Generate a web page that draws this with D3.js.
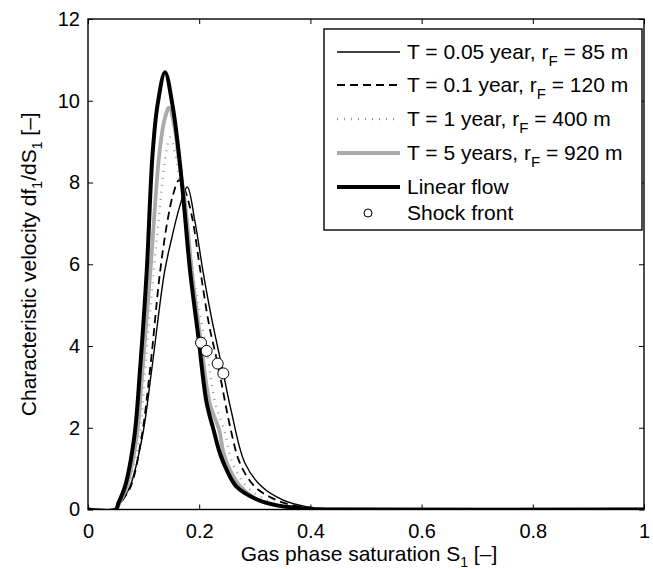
<!DOCTYPE html>
<html>
<head>
<meta charset="utf-8">
<script src="https://cdn.jsdelivr.net/npm/d3@7"></script>
<style>
  body { margin: 0; background: #fff; }
  svg { display: block; font-family: "Liberation Sans", Arial, Helvetica, sans-serif; }
</style>
</head>
<body>
<svg width="653" height="569"></svg>
<script>
// values: saturation S1 and characteristic velocity
const sThin = [0, 0.05, 0.058, 0.0755, 0.0977, 0.1145, 0.1375, 0.1505, 0.1655, 0.1786, 0.1924, 0.2074, 0.222, 0.2434, 0.257, 0.2824, 0.3124, 0.351, 0.393, 0.44, 0.5, 1];
const vThin = [0, 0, 0.15, 0.56, 1.78, 3.41, 5.8, 6.63, 7.44, 7.89, 7.04, 5.78, 4.7, 3.33, 2.45, 1.13, 0.56, 0.23, 0.07, 0.015, 0, 0];

const sDash = [0, 0.05, 0.058, 0.0768, 0.0965, 0.1115, 0.1295, 0.1427, 0.153, 0.1637, 0.172, 0.1865, 0.2014, 0.218, 0.2332, 0.257, 0.2734, 0.3, 0.339, 0.38, 0.43, 0.48, 1];
const vDash = [0, 0, 0.15, 0.56, 1.78, 3.41, 5.8, 7.04, 7.7, 8.06, 7.9, 7.2, 5.9, 4.5, 3.57, 1.94, 1.13, 0.56, 0.23, 0.07, 0.012, 0, 0];

const sDot = [0, 0.05, 0.057, 0.0725, 0.0923, 0.1025, 0.118, 0.13, 0.138, 0.1475, 0.157, 0.166, 0.176, 0.1895, 0.2134, 0.229, 0.245, 0.26, 0.2854, 0.321, 0.36, 0.4, 0.46, 1];
const vDot = [0, 0, 0.15, 0.56, 1.78, 3.41, 5.8, 7.5, 8.5, 9.1, 8.7, 8.0, 7.3, 5.73, 3.88, 2.6, 1.94, 1.13, 0.56, 0.23, 0.08, 0.02, 0, 0];

const sGray = [0, 0.05, 0.056, 0.0695, 0.0875, 0.098, 0.112, 0.128, 0.137, 0.1457, 0.155, 0.163, 0.175, 0.187, 0.2032, 0.219, 0.236, 0.244, 0.256, 0.274, 0.303, 0.335, 0.37, 0.42, 0.47, 1];
const vGray = [0, 0, 0.15, 0.56, 1.78, 3.41, 5.8, 8.67, 9.5, 9.83, 9.4, 8.6, 7.44, 5.8, 4.08, 2.6, 1.94, 1.37, 0.95, 0.56, 0.25, 0.11, 0.04, 0.008, 0, 0];

const sLin = [0, 0.05, 0.0545, 0.0665, 0.0833, 0.0935, 0.1055, 0.116, 0.125, 0.1385, 0.152, 0.1637, 0.1727, 0.1835, 0.1984, 0.2135, 0.226, 0.2374, 0.25, 0.267, 0.3, 0.33, 0.36, 0.4, 0.45, 1];
const vLin = [0, 0, 0.15, 0.56, 1.78, 3.41, 5.8, 8.67, 9.89, 10.7, 9.89, 8.67, 7.44, 5.85, 4.23, 2.6, 1.94, 1.37, 0.95, 0.56, 0.27, 0.13, 0.06, 0.015, 0, 0];

const sShock = [0.2032, 0.2134, 0.2332, 0.2434];
const vShock = [4.08, 3.88, 3.57, 3.33];

const xTicks = [0, 0.2, 0.4, 0.6, 0.8, 1];
const yTicks = [0, 2, 4, 6, 8, 10, 12];

const legendText = [
  ['T = 0.05 year, r', 'F', ' = 85 m'],
  ['T = 0.1 year, r', 'F', ' = 120 m'],
  ['T = 1 year, r', 'F', ' = 400 m'],
  ['T = 5 years, r', 'F', ' = 920 m'],
  ['Linear flow', '', ''],
  ['Shock front', '', '']
];

const styles = [
  {stroke: '#000', width: 1.4, dash: null},
  {stroke: '#000', width: 1.8, dash: '8,5'},
  {stroke: '#999', width: 2.4, dash: '1,6'},
  {stroke: '#aaa', width: 3.8, dash: null},
  {stroke: '#000', width: 4, dash: null}
];

const series = [
  sThin.map((s, i) => [s, vThin[i]]),
  sDash.map((s, i) => [s, vDash[i]]),
  sDot.map((s, i) => [s, vDot[i]]),
  sGray.map((s, i) => [s, vGray[i]]),
  sLin.map((s, i) => [s, vLin[i]])
];

const svg = d3.select('svg');
const mLeft = 88, mRight = 644, mTop = 19, mBottom = 509.5;

const x = d3.scaleLinear().domain([0, 1]).range([mLeft, mRight]);
const y = d3.scaleLinear().domain([0, 12]).range([mBottom, mTop]);

const line = d3.line()
    .x(d => x(d[0]))
    .y(d => y(d[1]))
    .curve(d3.curveCatmullRom.alpha(0.5));

svg.append('defs').append('clipPath').attr('id', 'clip')
  .append('rect')
    .attr('x', mLeft).attr('y', mTop)
    .attr('width', mRight - mLeft).attr('height', mBottom - mTop);

const plot = svg.append('g').attr('clip-path', 'url(#clip)');

plot.selectAll('path.curve')
    .data(series)
    .enter()
    .append('path')
    .attr('class', 'curve')
    .attr('d', line)
    .attr('fill', 'none')
    .attr('stroke', (d, i) => styles[i].stroke)
    .attr('stroke-width', (d, i) => styles[i].width)
    .attr('stroke-dasharray', (d, i) => styles[i].dash)
    .attr('stroke-linejoin', 'round');

plot.selectAll('circle.shock')
    .data(sShock)
    .enter()
    .append('circle')
    .attr('class', 'shock')
    .attr('cx', d => x(d))
    .attr('cy', (d, i) => y(vShock[i]))
    .attr('r', 5.5)
    .attr('fill', '#fff')
    .attr('stroke', '#000')
    .attr('stroke-width', 1);

// axes: ticks pointing inward on all four sides
const tickLen = 5;
const fontTick = 20;

svg.append('g')
    .attr('transform', `translate(0,${mBottom})`)
    .call(d3.axisBottom(x).tickValues(xTicks).tickSize(-tickLen).tickPadding(14)
        .tickFormat(d3.format('~g')))
    .call(g => g.select('.domain').remove())
    .call(g => g.selectAll('text').attr('font-size', fontTick).attr('fill', '#000')
        .attr('font-family', null).attr('dy', '0.71em'));

svg.append('g')
    .attr('transform', `translate(0,${mTop})`)
    .call(d3.axisTop(x).tickValues(xTicks).tickSize(-tickLen).tickFormat(''))
    .call(g => g.select('.domain').remove());

svg.append('g')
    .attr('transform', `translate(${mLeft},0)`)
    .call(d3.axisLeft(y).tickValues(yTicks).tickSize(-tickLen).tickPadding(8))
    .call(g => g.select('.domain').remove())
    .call(g => g.selectAll('text').attr('font-size', fontTick).attr('fill', '#000')
        .attr('font-family', null));

svg.append('g')
    .attr('transform', `translate(${mRight},0)`)
    .call(d3.axisRight(y).tickValues(yTicks).tickSize(-tickLen).tickFormat(''))
    .call(g => g.select('.domain').remove());

svg.selectAll('.tick line').attr('stroke', '#000').attr('stroke-width', 1);

svg.append('rect')
    .attr('x', mLeft).attr('y', mTop)
    .attr('width', mRight - mLeft).attr('height', mBottom - mTop)
    .attr('fill', 'none')
    .attr('stroke', '#000')
    .attr('stroke-width', 1.4);

// axis labels
const xl = svg.append('text')
    .attr('x', (mLeft + mRight) / 2 + 3)
    .attr('y', 561)
    .attr('text-anchor', 'middle')
    .attr('font-size', 21);
xl.append('tspan').text('Gas phase saturation S');
xl.append('tspan').attr('font-size', 14).attr('dy', 6).text('1');
xl.append('tspan').attr('dy', -6).text(' [\u2013]');

const yl = svg.append('text')
    .attr('transform', `translate(36,${(mTop + mBottom) / 2}) rotate(-90)`)
    .attr('text-anchor', 'middle')
    .attr('font-size', 21);
yl.append('tspan').text('Characteristic velocity df');
yl.append('tspan').attr('font-size', 14).attr('dy', 6).text('1');
yl.append('tspan').attr('dy', -6).text('/dS');
yl.append('tspan').attr('font-size', 14).attr('dy', 6).text('1');
yl.append('tspan').attr('dy', -6).text(' [\u2013]');

// legend
const legend = svg.append('g');
legend.append('rect')
    .attr('x', 324).attr('y', 29)
    .attr('width', 318).attr('height', 201)
    .attr('fill', '#fff')
    .attr('stroke', '#000')
    .attr('stroke-width', 1.4);

const rowY = [52, 85, 119, 153, 187, 213];

legendText.forEach((t, i) => {
  const yy = rowY[i];
  if (i < styles.length) {
    const st = styles[i];
    legend.append('line')
        .attr('x1', 337).attr('x2', 400)
        .attr('y1', yy).attr('y2', yy)
        .attr('stroke', st.stroke)
        .attr('stroke-width', st.width)
        .attr('stroke-dasharray', st.dash);
  } else {
    legend.append('circle')
        .attr('cx', 368).attr('cy', yy).attr('r', 4)
        .attr('fill', '#fff').attr('stroke', '#000').attr('stroke-width', 1);
  }
  const txt = legend.append('text')
      .attr('x', 407)
      .attr('y', yy + 7)
      .attr('font-size', 21);
  txt.append('tspan').text(t[0]);
  if (t[1]) {
    txt.append('tspan').attr('font-size', 15).attr('dy', 7).text(t[1]);
    txt.append('tspan').attr('dy', -7).text(t[2]);
  }
});
</script>
</body>
</html>
